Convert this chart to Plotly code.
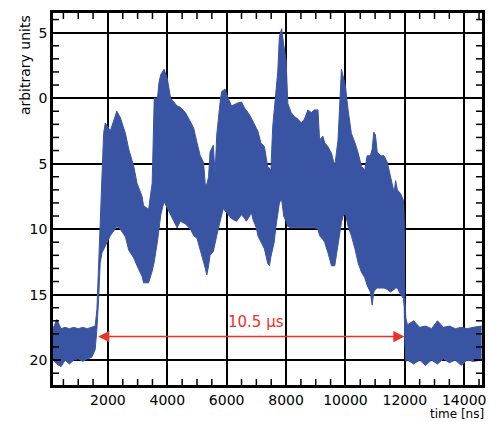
import plotly.graph_objects as go

# Envelope of the noisy waveform, time in ns
time_ns = [150, 280, 420, 560, 700, 850, 1000, 1150, 1300, 1450, 1570, 1630, 1685, 1740, 1800,
           1855, 1910, 2080, 2300, 2420, 2590, 2700, 2870, 2980, 3150, 3200, 3370, 3490, 3560,
           3670, 3720, 3780, 3890, 4000, 4110, 4220, 4330, 4440, 4610, 4780, 4890, 5000, 5110,
           5220, 5280, 5330, 5390, 5440, 5550, 5610, 5665, 5780, 5830, 5890, 5940, 6050, 6165,
           6330, 6500, 6610, 6660, 6775, 6830, 6890, 7000, 7050, 7150, 7270, 7380, 7440, 7490,
           7550, 7600, 7660, 7720, 7775, 7850, 7920, 8000, 8060, 8170, 8280, 8400, 8510, 8620,
           8735, 8850, 8960, 9075, 9130, 9240, 9300, 9410, 9530, 9640, 9750, 9810, 9865, 9920,
           10000, 10090, 10200, 10320, 10430, 10540, 10650, 10730, 10840, 10900, 10955, 11010,
           11070, 11180, 11300, 11410, 11520, 11640, 11690, 11750, 11860, 11955, 11980, 12000,
           12035, 12090, 12300, 12500, 12700, 12900, 13100, 13300, 13500, 13700, 13900, 14100,
           14300, 14590]
env_top = [17.6, 16.9, 17.6, 17.5, 17.6, 17.5, 17.6, 17.5, 17.6, 17.5, 17.4, 16.1, 13.1, 9.0, 5.5,
           2.7, 1.9, 2.5, 1.0, 1.5, 2.7, 3.9, 5.2, 6.5, 7.5, 8.2, 8.5, 6.5, 0.0,
           0.0, -1.2, -1.8, -2.2, -1.5, 0.0, 0.3, 0.6, 0.7, 1.1, 1.8, 2.3, 3.4, 4.4,
           4.9, 6.6, 6.6, 6.0, 4.1, 3.6, 5.8, 2.8, 0.3, -0.5, -0.6, -0.7, 0.0, 0.6,
           0.4, 0.3, 0.8, 0.9, 1.3, 1.6, 1.8, 2.3, 2.5, 3.4, 3.7, 5.2, 5.4, 5.5,
           2.2, 0.8, -0.4, -2.0, -4.7, -5.3, -4.1, -2.9, 0.4, 1.1, 1.4, 1.6, 1.9, 1.6,
           0.9, 1.1, 0.9, 0.9, 3.2, 2.9, 3.4, 3.7, 4.2, 5.2, 3.2, -0.4, -2.2, -1.7,
           -0.9, 0.9, 2.7, 3.4, 4.2, 5.2, 5.5, 4.4, 4.4, 3.9, 2.6, 2.8,
           4.1, 4.4, 4.4, 4.9, 6.1, 7.2, 6.3, 7.0, 7.3, 7.8, 9.4, 15.2,
           16.8, 17.3, 17.0, 17.5, 17.4, 17.6, 17.0, 17.5, 17.4, 17.6, 17.5, 17.6,
           17.5, 17.4]
env_bottom = [20.0, 20.3, 20.5, 20.0, 20.3, 20.0, 19.9, 20.1, 19.9, 19.8, 19.2, 17.6, 15.4, 12.6, 11.8,
              11.5, 11.3, 10.5, 9.8, 10.0, 10.6, 11.6, 12.2, 12.8, 13.6, 14.1, 14.1, 13.2, 12.5,
              10.9, 9.8, 8.9, 7.9, 8.4, 8.9, 9.4, 9.9, 9.4, 9.6, 10.0, 10.5, 10.7, 11.7,
              12.5, 13.0, 13.5, 12.8, 12.0, 11.7, 11.0, 10.5, 9.4, 8.9, 8.4, 8.6, 8.9, 9.2,
              9.4, 8.9, 9.2, 9.4, 9.0, 8.7, 9.3, 9.9, 10.5, 11.0, 11.5, 12.6, 12.8, 12.1,
              11.5, 11.0, 9.8, 9.0, 8.0, 7.7, 9.0, 9.4, 9.8, 9.9, 9.9, 9.9, 9.9, 9.9,
              9.9, 9.9, 9.9, 10.0, 10.5, 10.8, 11.0, 11.8, 12.8, 12.8, 11.0, 10.2, 9.5, 9.0,
              8.8, 9.8, 10.5, 11.5, 12.6, 13.3, 13.7, 14.3, 14.8, 15.8, 14.8, 14.6,
              14.5, 14.5, 14.5, 14.6, 14.8, 14.6, 14.5, 14.5, 15.0, 15.3, 16.0, 18.5,
              20.1, 20.0, 20.3, 20.0, 20.4, 20.0, 20.3, 19.9, 20.2, 20.0, 20.4, 20.0,
              20.1, 20.0]

x_range = [150, 14600]
y_range = [21.9, -6.5]
x_tick_step = 2000
x_minor_step = 500
y_ticks = [-5, 0, 5, 10, 15, 20]
y_tick_text = ["5", "0", "5", "10", "15", "20"]
y_minor_ticks = [-6, -4, -3, -2, -1, 1, 2, 3, 4, 6, 7, 8, 9, 11, 12, 13, 14,
                 16, 17, 18, 19, 21]
x_minor_ticks = [v for v in range(500, 14600, x_minor_step) if v % x_tick_step]

pulse_start_ns = 1620
pulse_end_ns = 11990
arrow_level = 18.2
pulse_label = "10.5 μs"

blue = "rgb(58,84,164)"
red = "rgb(235,50,40)"

fig = go.Figure()
fig.add_trace(go.Scatter(x=time_ns, y=env_top, mode="lines",
                         line=dict(color=blue, width=1), showlegend=False, hoverinfo="skip"))
fig.add_trace(go.Scatter(x=time_ns, y=env_bottom, mode="lines", fill="tonexty",
                         fillcolor=blue, line=dict(color=blue, width=1),
                         showlegend=False, hoverinfo="skip"))

fig.add_annotation(x=pulse_end_ns, y=arrow_level, ax=pulse_start_ns, ay=arrow_level,
                   xref="x", yref="y", axref="x", ayref="y", text="",
                   showarrow=True, arrowhead=2, arrowside="end+start",
                   arrowsize=1.4, arrowwidth=1.6, arrowcolor=red)
fig.add_annotation(x=(pulse_start_ns + pulse_end_ns) / 2 + 180, y=17.1, xref="x", yref="y",
                   text=pulse_label, showarrow=False,
                   font=dict(family="DejaVu Sans", size=15, color=red))

fig.add_annotation(x=-0.065, y=1.0, xref="paper", yref="paper", text="arbitrary units",
                   textangle=-90, showarrow=False, xanchor="center", yanchor="top",
                   font=dict(family="DejaVu Sans", size=14, color="black"))
fig.add_annotation(x=1.01, y=-0.077, xref="paper", yref="paper", text="time [ns]",
                   showarrow=False, xanchor="right", yanchor="middle",
                   font=dict(family="DejaVu Sans", size=12, color="black"))

# small inside tick marks on all four sides of the frame (minor ticks)
tick_len_y = 6 / 372
tick_len_x = 6 / 429
tick_line = dict(color="black", width=1.5)
for v in x_minor_ticks:
    fig.add_shape(type="line", xref="x", yref="paper", x0=v, x1=v, y0=0, y1=tick_len_y,
                  line=tick_line, layer="above")
    fig.add_shape(type="line", xref="x", yref="paper", x0=v, x1=v, y0=1, y1=1 - tick_len_y,
                  line=tick_line, layer="above")
for v in y_minor_ticks:
    fig.add_shape(type="line", xref="paper", yref="y", x0=0, x1=tick_len_x, y0=v, y1=v,
                  line=tick_line, layer="above")
    fig.add_shape(type="line", xref="paper", yref="y", x0=1, x1=1 - tick_len_x, y0=v, y1=v,
                  line=tick_line, layer="above")

axis_common = dict(showline=True, linecolor="black", linewidth=2.5, mirror="allticks",
                   ticks="inside", ticklen=8, tickwidth=1.5, tickcolor="black",
                   showgrid=True, gridcolor="black", gridwidth=2, zeroline=False,
                   automargin=False,
                   tickfont=dict(family="DejaVu Sans", size=14, color="black"))

fig.update_xaxes(range=x_range, tickmode="linear", tick0=0, dtick=x_tick_step,
                 tickformat="d", **axis_common)
fig.update_yaxes(range=y_range, tickmode="array", tickvals=y_ticks, ticktext=y_tick_text,
                 **axis_common)

fig.update_layout(width=489, height=422, margin=dict(l=53, r=7, t=13, b=37),
                  plot_bgcolor="white", paper_bgcolor="white", showlegend=False)

fig.write_html("out.html")
